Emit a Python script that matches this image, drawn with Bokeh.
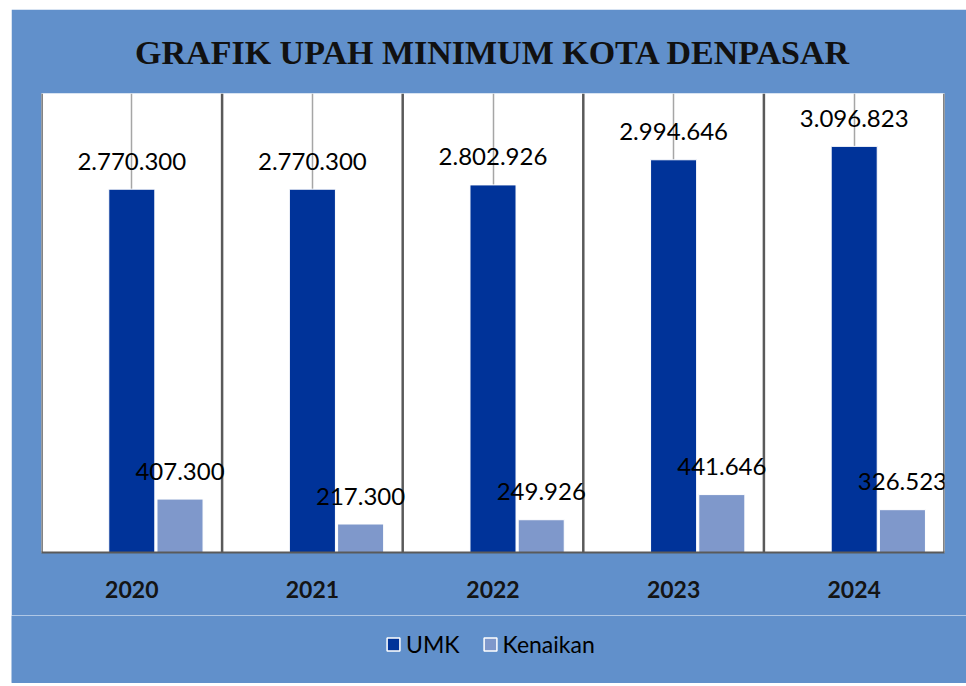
from bokeh.plotting import figure
from bokeh.layouts import column
from bokeh.models import ColumnDataSource, Range1d, Legend, LegendItem, LabelSet, FactorRange
from bokeh.transform import dodge
from bokeh.core.properties import value
from bokeh.embed import file_html
from bokeh.resources import INLINE

# ---- data ----
years = ["2020", "2021", "2022", "2023", "2024"]
umk = [2770300, 2770300, 2802926, 2994646, 3096823]
kenaikan = [407300, 217300, 249926, 441646, 326523]
title_text = "GRAFIK UPAH MINIMUM KOTA DENPASAR"
series_names = ["UMK", "Kenaikan"]
y_max = 3500000


def fmt(v):
    return f"{v:,}".replace(",", ".")


BLUE_BG = "#6190CB"
UMK_COLOR = "#003399"
KEN_COLOR = "#7F98CB"
LABEL_FONT = "Lato"

src = ColumnDataSource(dict(
    year=years,
    umk=umk,
    kenaikan=kenaikan,
    umk_lbl=[fmt(v) for v in umk],
    ken_lbl=[fmt(v) for v in kenaikan],
    top=[y_max] * len(years),
    zero=[0] * len(years),
))
last_src = ColumnDataSource(dict(year=years[-1:], top=[y_max], zero=[0]))

p = figure(
    x_range=FactorRange(*years),
    y_range=Range1d(0, y_max),
    width=955, height=606,
    output_backend="svg",
    toolbar_location=None,
    y_axis_location=None,
    min_border_left=30, min_border_right=22,
    min_border_top=84, min_border_bottom=63,
    background_fill_color="white",
    border_fill_color=BLUE_BG,
    outline_line_color=None,
)
p.margin = (9, 0, 0, 11)

# title
p.title.text = title_text
p.title.align = "center"
p.title.text_font = "Liberation Serif"
p.title.text_font_style = "bold"
p.title.text_font_size = "34px"
p.title.text_color = "#111111"
p.title.standoff = 45

# grids: light line at category centres
p.ygrid.grid_line_color = None
p.xgrid.grid_line_color = "#A6A6A6"
p.xgrid.grid_line_width = 1.5

# category separators
p.segment(x0=dodge("year", -0.5, range=p.x_range), x1=dodge("year", -0.5, range=p.x_range),
          y0="zero", y1="top", source=src, line_color="#5A5A5A", line_width=2.5)
p.segment(x0=dodge("year", 0.5, range=p.x_range), x1=dodge("year", 0.5, range=p.x_range),
          y0="zero", y1="top", source=last_src, line_color="#5A5A5A", line_width=2.5)

off_umk = 0.0
off_ken = 0.267
bw = 0.255

r1 = p.vbar(x=dodge("year", off_umk, range=p.x_range), top="umk", width=bw, source=src,
            fill_color=UMK_COLOR, line_color="white", line_width=1)
r2 = p.vbar(x=dodge("year", off_ken, range=p.x_range), top="kenaikan", width=bw, source=src,
            fill_color=KEN_COLOR, line_color="white", line_width=1)

for col, lbl, off in [("umk", "umk_lbl", off_umk), ("kenaikan", "ken_lbl", off_ken)]:
    ls = LabelSet(x=dodge("year", off, range=p.x_range), y=col, text=lbl, source=src,
                  y_offset=28, text_align="center", text_baseline="middle",
                  text_font=value(LABEL_FONT), text_font_size="24px", text_color="#000000")
    p.add_layout(ls)

# x axis
ax = p.xaxis[0]
ax.axis_line_color = "#5A5A5A"
ax.axis_line_width = 2
ax.major_tick_line_color = None
ax.minor_tick_line_color = None
ax.major_label_standoff = 22
ax.major_label_text_font = LABEL_FONT
ax.major_label_text_font_style = "bold"
ax.major_label_text_font_size = "23px"
ax.major_label_text_color = "#141414"

# ---- legend strip (separate small figure below the chart) ----
q = figure(
    width=955, height=68,
    x_range=Range1d(10, 20), y_range=Range1d(10, 20),
    output_backend="svg",
    toolbar_location=None,
    x_axis_location=None, y_axis_location=None,
    min_border=0,
    background_fill_color=BLUE_BG,
    border_fill_color=BLUE_BG,
    outline_line_color=None,
)
q.margin = (0, 0, 0, 11)
q.xgrid.visible = False
q.ygrid.visible = False

unaligned = hasattr(q, "frame_align")
if unaligned:
    q.frame_align = False
    p.frame_align = False
legend_x = 374 if unaligned else 344

# off-screen placeholders that only carry the legend swatch styles
dummy = ColumnDataSource(dict(x=[0], top=[0]))
d1 = q.vbar(x="x", top="top", width=0, source=dummy, fill_color=UMK_COLOR, line_color="white", line_width=1.5)
d2 = q.vbar(x="x", top="top", width=0, source=dummy, fill_color=KEN_COLOR, line_color="white", line_width=1.5)

legend = Legend(
    items=[LegendItem(label=series_names[0], renderers=[d1]),
           LegendItem(label=series_names[1], renderers=[d2])],
    location=(legend_x, 25), orientation="horizontal",
    background_fill_alpha=0, border_line_color=None, border_line_alpha=0,
    glyph_width=16, glyph_height=16, label_standoff=5, spacing=22, label_height=28,
    padding=0, margin=0,
    label_text_font=LABEL_FONT, label_text_font_size="23px", label_text_color="#000000",
)
q.add_layout(legend)

layout = column(p, q, spacing=0)
open("out.html", "w").write(file_html(layout, INLINE))
